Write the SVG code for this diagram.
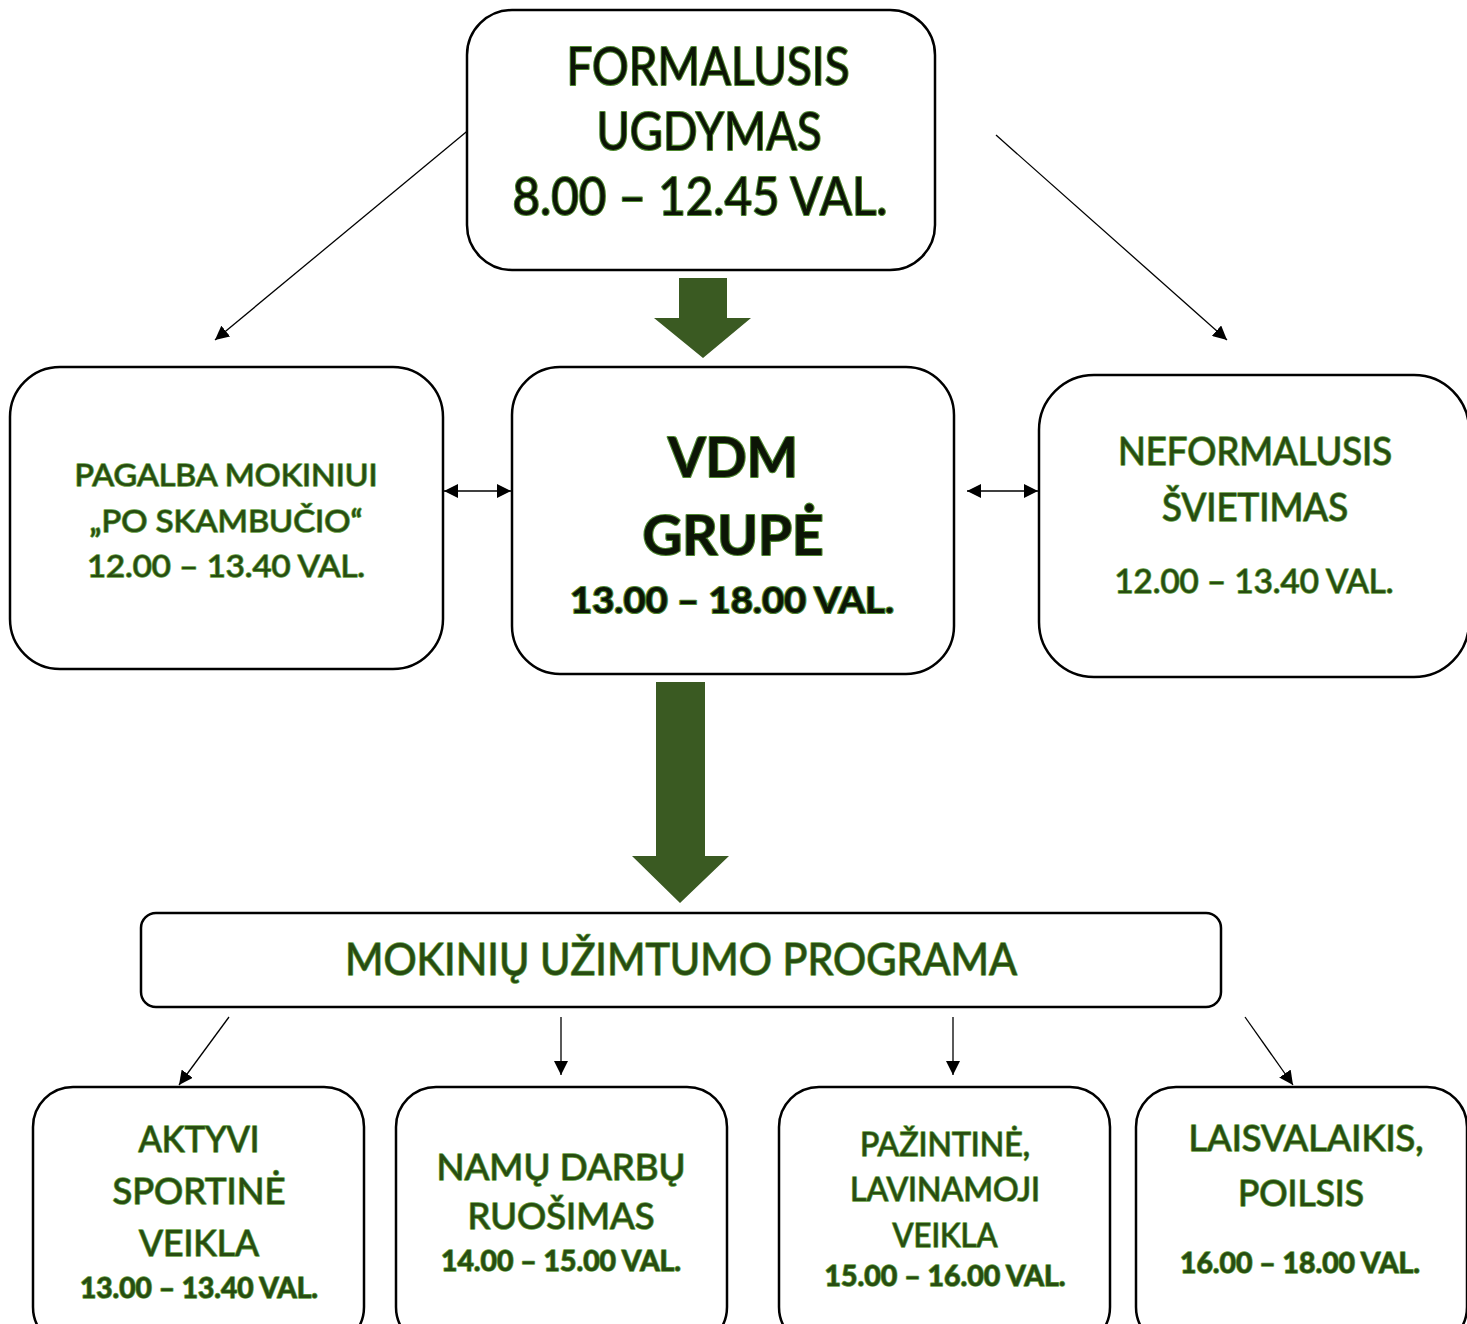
<svg xmlns="http://www.w3.org/2000/svg" width="1467" height="1324" viewBox="0 0 1467 1324">
<style>
.box{fill:#fff;stroke:#000;stroke-width:2.5}
.t{font-family:Lato,"Open Sans","Liberation Sans",sans-serif;text-anchor:middle;fill:#284c12;stroke:#61a03d;stroke-width:1.6;paint-order:stroke;stroke-linejoin:round}
.big{fill:#0c1506;stroke:#4f8a30;stroke-width:2.2}
.b{font-weight:bold}
.ln{stroke:#000;stroke-width:1.3;fill:none}
.garrow{fill:#3a5a22}
</style>
<defs>
<marker id="ah2" viewBox="0 0 10 10" refX="10" refY="5" markerWidth="14" markerHeight="14" markerUnits="userSpaceOnUse" orient="auto-start-reverse">
<path d="M0,0 L10,5 L0,10 z" fill="#000"/>
</marker>
</defs>

<g id="connectors">
<line class="ln" x1="471" y1="128" x2="215" y2="340" marker-end="url(#ah2)"/>
<line class="ln" x1="996" y1="135" x2="1227" y2="340" marker-end="url(#ah2)"/>
<polygon class="garrow" points="679,278 727,278 727,318 751,318 703,358 654,318 679,318"/>
<line class="ln" x1="444" y1="491" x2="511" y2="491" marker-start="url(#ah2)" marker-end="url(#ah2)"/>
<line class="ln" x1="967" y1="491" x2="1038" y2="491" marker-start="url(#ah2)" marker-end="url(#ah2)"/>
<polygon class="garrow" points="656,682 705,682 705,856 729,856 680,903 632,856 656,856"/>
<line class="ln" x1="229" y1="1017" x2="179" y2="1085" marker-end="url(#ah2)"/>
<line class="ln" x1="561" y1="1017" x2="561" y2="1075" marker-end="url(#ah2)"/>
<line class="ln" x1="953" y1="1017" x2="953" y2="1075" marker-end="url(#ah2)"/>
<line class="ln" x1="1245" y1="1017" x2="1293" y2="1085" marker-end="url(#ah2)"/>
</g>

<g id="formalusis">
<rect class="box" x="467" y="10" width="468" height="260" rx="45"/>
<text class="t big" font-size="52" x="708" y="85" textLength="283" lengthAdjust="spacingAndGlyphs">FORMALUSIS</text>
<text class="t big" font-size="52" x="709" y="150" textLength="225" lengthAdjust="spacingAndGlyphs">UGDYMAS</text>
<text class="t big" font-size="52" x="700" y="215" textLength="375" lengthAdjust="spacingAndGlyphs">8.00 – 12.45 VAL.</text>
</g>

<g id="pagalba">
<rect class="box" x="10" y="367" width="433" height="302" rx="50"/>
<text class="t" font-size="31" x="226" y="486" textLength="303" lengthAdjust="spacingAndGlyphs">PAGALBA MOKINIUI</text>
<text class="t" font-size="31" x="226" y="532" textLength="273" lengthAdjust="spacingAndGlyphs">„PO SKAMBUČIO“</text>
<text class="t" font-size="31" x="226" y="577" textLength="278" lengthAdjust="spacingAndGlyphs">12.00 – 13.40 VAL.</text>
</g>

<g id="vdm">
<rect class="box" x="512" y="367" width="442" height="307" rx="48"/>
<text class="t big b" font-size="55" x="733" y="477" textLength="130" lengthAdjust="spacingAndGlyphs">VDM</text>
<text class="t big b" font-size="55" x="733" y="555" textLength="181" lengthAdjust="spacingAndGlyphs">GRUPĖ</text>
<text class="t big b" font-size="36" x="732" y="613" textLength="324" lengthAdjust="spacingAndGlyphs">13.00 – 18.00 VAL.</text>
</g>

<g id="neformalusis">
<rect class="box" x="1039" y="375" width="430" height="302" rx="55"/>
<text class="t" font-size="38" x="1255" y="465" textLength="274" lengthAdjust="spacingAndGlyphs">NEFORMALUSIS</text>
<text class="t" font-size="38" x="1255" y="521" textLength="186" lengthAdjust="spacingAndGlyphs">ŠVIETIMAS</text>
<text class="t" font-size="33" x="1254" y="593" textLength="279" lengthAdjust="spacingAndGlyphs">12.00 – 13.40 VAL.</text>
</g>

<g id="programa">
<rect class="box" x="141" y="913" width="1080" height="94" rx="15"/>
<text class="t" font-size="45" x="681" y="975" textLength="672" lengthAdjust="spacingAndGlyphs">MOKINIŲ UŽIMTUMO PROGRAMA</text>
</g>

<g id="aktyvi">
<rect class="box" x="33" y="1087" width="331" height="260" rx="40"/>
<text class="t" font-size="36" x="199" y="1152" textLength="121" lengthAdjust="spacingAndGlyphs">AKTYVI</text>
<text class="t" font-size="36" x="199" y="1204" textLength="173" lengthAdjust="spacingAndGlyphs">SPORTINĖ</text>
<text class="t" font-size="36" x="199" y="1256" textLength="120" lengthAdjust="spacingAndGlyphs">VEIKLA</text>
<text class="t b" font-size="29" x="199" y="1298" textLength="238" lengthAdjust="spacingAndGlyphs">13.00 – 13.40 VAL.</text>
</g>

<g id="namu">
<rect class="box" x="396" y="1087" width="331" height="260" rx="40"/>
<text class="t" font-size="36" x="561" y="1180" textLength="249" lengthAdjust="spacingAndGlyphs">NAMŲ DARBŲ</text>
<text class="t" font-size="36" x="561" y="1229" textLength="187" lengthAdjust="spacingAndGlyphs">RUOŠIMAS</text>
<text class="t b" font-size="29" x="561" y="1271" textLength="240" lengthAdjust="spacingAndGlyphs">14.00 – 15.00 VAL.</text>
</g>

<g id="pazintine">
<rect class="box" x="779" y="1087" width="331" height="260" rx="40"/>
<text class="t" font-size="33" x="945" y="1156" textLength="170" lengthAdjust="spacingAndGlyphs">PAŽINTINĖ,</text>
<text class="t" font-size="33" x="945" y="1201" textLength="190" lengthAdjust="spacingAndGlyphs">LAVINAMOJI</text>
<text class="t" font-size="33" x="945" y="1247" textLength="105" lengthAdjust="spacingAndGlyphs">VEIKLA</text>
<text class="t b" font-size="29" x="945" y="1286" textLength="241" lengthAdjust="spacingAndGlyphs">15.00 – 16.00 VAL.</text>
</g>

<g id="laisvalaikis">
<rect class="box" x="1136" y="1087" width="331" height="260" rx="40"/>
<text class="t" font-size="36" x="1306" y="1151" textLength="235" lengthAdjust="spacingAndGlyphs">LAISVALAIKIS,</text>
<text class="t" font-size="36" x="1301" y="1206" textLength="126" lengthAdjust="spacingAndGlyphs">POILSIS</text>
<text class="t b" font-size="29" x="1300" y="1273" textLength="240" lengthAdjust="spacingAndGlyphs">16.00 – 18.00 VAL.</text>
</g>
</svg>
